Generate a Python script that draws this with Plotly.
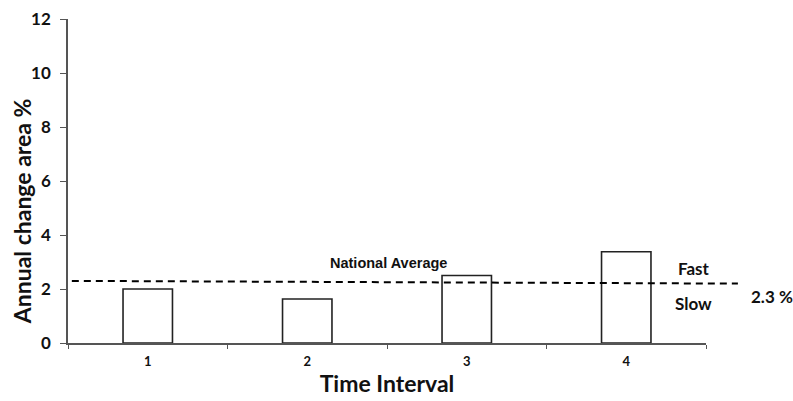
import plotly.graph_objects as go

categories = ["1", "2", "3", "4"]
values = [2.0, 1.63, 2.5, 3.38]
y_ticks = [0, 2, 4, 6, 8, 10, 12]
national_avg_left = 2.3
national_avg_right = 2.2

fig = go.Figure()
fig.add_trace(go.Bar(
    x=categories, y=values, width=0.31,
    marker=dict(color="white", line=dict(color="#222222", width=1.6)),
    showlegend=False,
))

fig.add_shape(type="line", xref="paper", yref="y",
              x0=0.006, x1=1.05, y0=national_avg_left, y1=national_avg_right,
              line=dict(color="black", width=2, dash="7px,5px"))

fig.add_annotation(text="<b>National Average</b>", xref="paper", yref="y",
                   x=0.502, y=2.95, showarrow=False,
                   font=dict(family="Liberation Sans", size=14.5, color="#111"))
fig.add_annotation(text="<b>Fast</b>", xref="paper", yref="y",
                   x=1.01, y=2.75, showarrow=False,
                   font=dict(family="Lato", size=17, color="#111"))
fig.add_annotation(text="<b>Slow</b>", xref="paper", yref="y",
                   x=1.012, y=1.45, showarrow=False,
                   font=dict(family="Lato", size=17, color="#111"))
fig.add_annotation(text="<b>2.3 %</b>", xref="paper", yref="y",
                   x=1.14, y=1.72, showarrow=False,
                   font=dict(family="Lato", size=17, color="#111"))
fig.add_annotation(text="<b>Annual change area %</b>", xref="paper", yref="paper",
                   x=-0.072, y=0.407, showarrow=False, textangle=-90,
                   xanchor="center", yanchor="middle",
                   font=dict(family="Lato", size=23, color="#111"))

fig.update_layout(
    width=793, height=401,
    margin=dict(l=68, r=87, t=19, b=58),
    plot_bgcolor="white", paper_bgcolor="white",
    font=dict(family="Lato", color="#111"),
    xaxis=dict(
        type="category", automargin=False,
        showline=True, linecolor="#555", linewidth=1.5,
        ticks="outside", tickson="boundaries", ticklen=4, tickcolor="#555",
        tickfont=dict(size=13, family="Lato", weight="bold"),
        ticklabelstandoff=6,
        title=dict(text="<b>Time Interval</b>", font=dict(size=23, family="Lato"), standoff=8),
        showgrid=False, zeroline=False,
    ),
    yaxis=dict(
        range=[0, 12], tickvals=y_ticks, automargin=False,
        showline=True, linecolor="#555", linewidth=1.5,
        ticks="outside", ticklen=6, tickcolor="#555",
        tickfont=dict(size=17, family="Lato", weight="bold"),
        ticklabelstandoff=6,
        showgrid=False, zeroline=False,
    ),
    bargap=0.69,
)

fig.write_html("out.html", config={"displayModeBar": False},
               post_script="document.body.style.margin='0';document.body.style.padding='0';")
